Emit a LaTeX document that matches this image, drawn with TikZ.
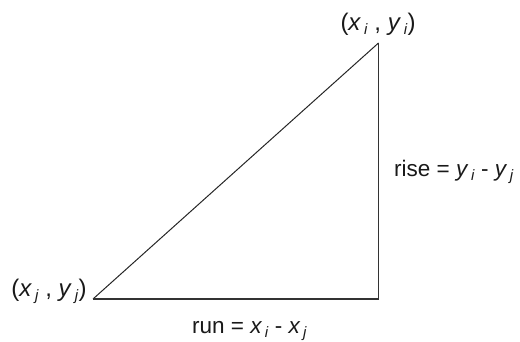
\documentclass[tikz,border=0pt]{standalone}
\usepackage{fontspec}
\setmainfont{Liberation Sans}
\newcommand\vsub[2]{\textit{#1}\hspace{0.12em}\raisebox{-0.3ex}{\fontsize{15}{17}\selectfont\textit{#2}}}
\begin{document}
\begin{tikzpicture}[x=1pt,y=1pt,
  lbl/.style={inner sep=0pt,font=\fontsize{22.5}{26}\selectfont,text=black!90},
  pt/.style={inner sep=0pt,font=\fontsize{24}{28}\selectfont,text=black!90},
  edge/.style={line width=1.6pt,black!80},
  hyp/.style={line width=1pt,black!85}]
\useasboundingbox (0,0) rectangle (520,342);
\coordinate (A) at (93,43);
\coordinate (B) at (378.5,43);
\coordinate (C) at (378.5,299);
\draw[hyp] (A) -- (C);
\draw[edge,line join=miter] (A) -- (B) -- (C);
\node[pt,anchor=base] (top) at (378,311) {(\vsub{x}{i} , \vsub{y}{i})};
\node[pt,anchor=base] (left) at (49,45) {(\vsub{x}{j} , \vsub{y}{j})};
\node[lbl,anchor=base west] (rise) at (394,165) {rise = \vsub{y}{i} - \vsub{y}{j}};
\node[lbl,anchor=base west] (run) at (192,8) {run = \vsub{x}{i} - \vsub{x}{j}};
\end{tikzpicture}
\end{document}
